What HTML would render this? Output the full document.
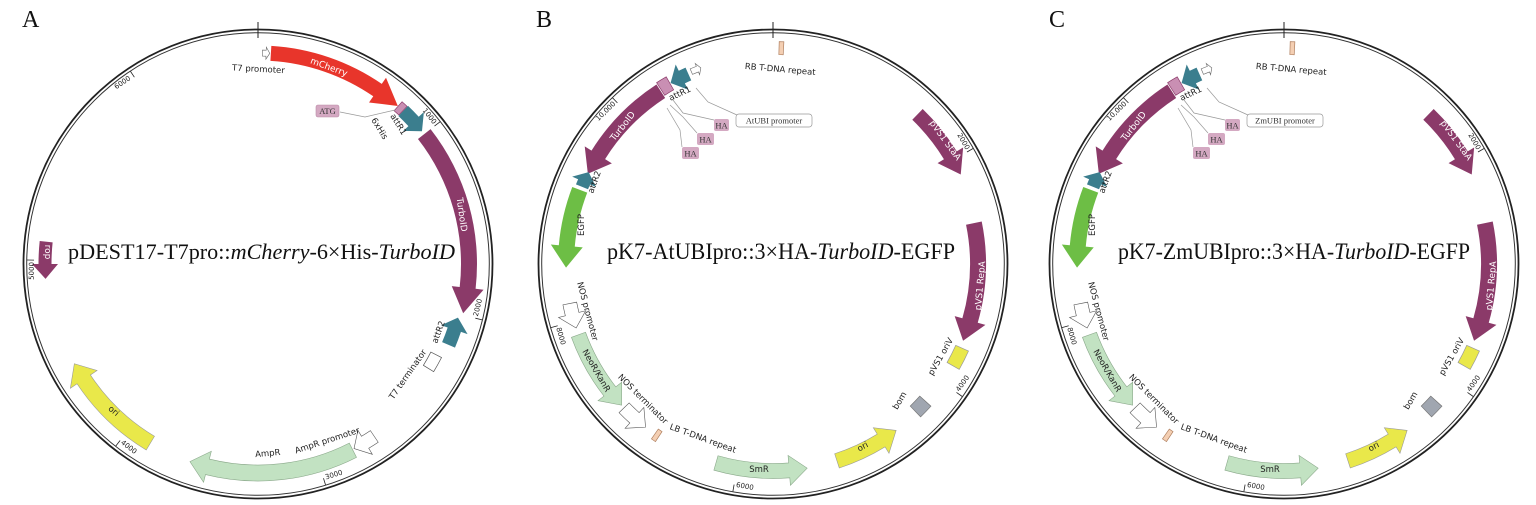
<!DOCTYPE html>
<html><head><meta charset="utf-8"><style>
html,body{margin:0;padding:0;background:#fff;width:1536px;height:505px;overflow:hidden}
svg{display:block}
.s{font-family:"DejaVu Sans","Liberation Sans",sans-serif;font-size:8.5px;fill:#222}
.w{font-family:"DejaVu Sans","Liberation Sans",sans-serif;font-size:9px;fill:#fff}
.k{font-family:"DejaVu Sans","Liberation Sans",sans-serif;font-size:7px;fill:#222}
.t{font-family:"Liberation Serif",serif;font-size:22px;fill:#111}
.L{font-family:"Liberation Serif",serif;font-size:24px;fill:#111}
.b{font-family:"Liberation Serif",serif;font-size:8.5px;fill:#333}
</style></head><body>
<svg id="svg" width="1536" height="505" viewBox="0 0 1536 505" xmlns="http://www.w3.org/2000/svg">
<text class="L" x="22" y="27">A</text>
<text class="L" x="536" y="27">B</text>
<text class="L" x="1049" y="27">C</text>

<g id="gA" transform="translate(258,264)"></g>
<g id="gB" transform="translate(773,264)"></g>
<g id="gC" transform="translate(1284,264)"></g>

<!-- Panel A text -->
<text class="t" x="68" y="259" textLength="387" lengthAdjust="spacingAndGlyphs">pDEST17-T7pro::<tspan font-style="italic">mCherry</tspan>-6×His-<tspan font-style="italic">TurboID</tspan></text>
<text class="s" x="232" y="72" transform="rotate(3 262 70)">T7 promoter</text>
<text class="w" x="329" y="70" text-anchor="middle" transform="rotate(20 329 67)">mCherry</text>
<rect x="316" y="105" width="23" height="12" rx="2" fill="#d4a9c2" stroke="#b98aa6" stroke-width="0.6"/>
<text class="b" x="327.5" y="114" text-anchor="middle">ATG</text>
<polyline points="340,112 365,117 395,110" fill="none" stroke="#999" stroke-width="0.7"/>
<text class="s" x="371" y="120" transform="rotate(58 371 120)">6xHis</text>
<text class="s" x="390" y="116" transform="rotate(58 390 116)">attR1</text>
<text class="w" x="459" y="215" text-anchor="middle" transform="rotate(82 459 215)">TurboID</text>
<text class="s" x="441" y="333" text-anchor="middle" transform="rotate(-70 441 333)">attR2</text>
<text class="s" x="410" y="376" text-anchor="middle" transform="rotate(-55 410 376)">T7 terminator</text>
<text class="s" x="268" y="456" text-anchor="middle" transform="rotate(-5 268 456)">AmpR</text>
<text class="s" x="328" y="443" text-anchor="middle" transform="rotate(-18 328 443)">AmpR promoter</text>
<text class="s" x="112" y="413" text-anchor="middle" transform="rotate(40 112 413)">ori</text>
<text class="w" x="45" y="252" text-anchor="middle" transform="rotate(90 45 252)">rop</text>

<!-- Panel B text -->
<g id="tB">
<text class="t" x="607" y="259" textLength="348" lengthAdjust="spacingAndGlyphs" style="font-size:23px">pK7-AtUBIpro::3×HA-<tspan font-style="italic">TurboID</tspan>-EGFP</text>
<text class="s" x="780" y="72" text-anchor="middle" transform="rotate(5 780 72)">RB T-DNA repeat</text>
<text class="s" x="681" y="96" text-anchor="middle" transform="rotate(-25 681 96)">attR1</text>
<polyline points="696,88 708,102 737,115" fill="none" stroke="#999" stroke-width="0.7"/>
<polyline points="673,100 683,113 714,120" fill="none" stroke="#999" stroke-width="0.7"/>
<polyline points="670,105 683,117 697,133" fill="none" stroke="#999" stroke-width="0.7"/>
<polyline points="667,108 680,130 682,147" fill="none" stroke="#999" stroke-width="0.7"/>
<rect x="736" y="114" width="76" height="13" rx="3" fill="#fff" stroke="#999" stroke-width="0.7"/>
<text class="b" x="774" y="123.5" text-anchor="middle">AtUBI promoter</text>
<rect x="714" y="119" width="15" height="12" rx="2" fill="#d4a9c2"/><text class="b" x="721.5" y="128.5" text-anchor="middle">HA</text>
<rect x="697" y="133" width="17" height="12" rx="2" fill="#d4a9c2"/><text class="b" x="705.5" y="142.5" text-anchor="middle">HA</text>
<rect x="682" y="147" width="17" height="12" rx="2" fill="#d4a9c2"/><text class="b" x="690.5" y="156.5" text-anchor="middle">HA</text>
<text class="w" x="625" y="128" text-anchor="middle" transform="rotate(-52 625 128)">TurboID</text>
<text class="s" x="597" y="183" text-anchor="middle" transform="rotate(-70 597 183)">attR2</text>
<text class="s" x="584" y="225" text-anchor="middle" transform="rotate(-90 584 225)">EGFP</text>
<text class="s" x="585" y="312" text-anchor="middle" transform="rotate(75 585 312)">NOS promoter</text>
<text class="k" x="594" y="372" text-anchor="middle" transform="rotate(60 594 372)" style="font-size:8.5px">NeoR/KanR</text>
<text class="s" x="641" y="401" text-anchor="middle" transform="rotate(45 641 401)">NOS terminator</text>
<text class="s" x="702" y="441" text-anchor="middle" transform="rotate(20 702 441)">LB T-DNA repeat</text>
<text class="k" x="759" y="472" text-anchor="middle" style="font-size:8.5px">SmR</text>
<text class="k" x="864" y="449" text-anchor="middle" transform="rotate(-28 864 449)" style="font-size:8.5px">ori</text>
<text class="s" x="902" y="402" text-anchor="middle" transform="rotate(-60 902 402)">bom</text>
<text class="s" x="943" y="358" text-anchor="middle" transform="rotate(-60 943 358)">pVS1 oriV</text>
<text class="w" x="983" y="286" text-anchor="middle" transform="rotate(-85 983 286)">pVS1 RepA</text>
<text class="w" x="943" y="142" text-anchor="middle" transform="rotate(54 943 142)">pVS1 StaA</text>
</g>

<!-- Panel C text -->
<g transform="translate(511,0)">
<text class="t" x="607" y="259" textLength="352" lengthAdjust="spacingAndGlyphs" style="font-size:23px">pK7-ZmUBIpro::3×HA-<tspan font-style="italic">TurboID</tspan>-EGFP</text>
<text class="s" x="780" y="72" text-anchor="middle" transform="rotate(5 780 72)">RB T-DNA repeat</text>
<text class="s" x="681" y="96" text-anchor="middle" transform="rotate(-25 681 96)">attR1</text>
<polyline points="696,88 708,102 737,115" fill="none" stroke="#999" stroke-width="0.7"/>
<polyline points="673,100 683,113 714,120" fill="none" stroke="#999" stroke-width="0.7"/>
<polyline points="670,105 683,117 697,133" fill="none" stroke="#999" stroke-width="0.7"/>
<polyline points="667,108 680,130 682,147" fill="none" stroke="#999" stroke-width="0.7"/>
<rect x="736" y="114" width="76" height="13" rx="3" fill="#fff" stroke="#999" stroke-width="0.7"/>
<text class="b" x="774" y="123.5" text-anchor="middle">ZmUBI promoter</text>
<rect x="714" y="119" width="15" height="12" rx="2" fill="#d4a9c2"/><text class="b" x="721.5" y="128.5" text-anchor="middle">HA</text>
<rect x="697" y="133" width="17" height="12" rx="2" fill="#d4a9c2"/><text class="b" x="705.5" y="142.5" text-anchor="middle">HA</text>
<rect x="682" y="147" width="17" height="12" rx="2" fill="#d4a9c2"/><text class="b" x="690.5" y="156.5" text-anchor="middle">HA</text>
<text class="w" x="625" y="128" text-anchor="middle" transform="rotate(-52 625 128)">TurboID</text>
<text class="s" x="597" y="183" text-anchor="middle" transform="rotate(-70 597 183)">attR2</text>
<text class="s" x="584" y="225" text-anchor="middle" transform="rotate(-90 584 225)">EGFP</text>
<text class="s" x="585" y="312" text-anchor="middle" transform="rotate(75 585 312)">NOS promoter</text>
<text class="k" x="594" y="372" text-anchor="middle" transform="rotate(60 594 372)" style="font-size:8.5px">NeoR/KanR</text>
<text class="s" x="641" y="401" text-anchor="middle" transform="rotate(45 641 401)">NOS terminator</text>
<text class="s" x="702" y="441" text-anchor="middle" transform="rotate(20 702 441)">LB T-DNA repeat</text>
<text class="k" x="759" y="472" text-anchor="middle" style="font-size:8.5px">SmR</text>
<text class="k" x="864" y="449" text-anchor="middle" transform="rotate(-28 864 449)" style="font-size:8.5px">ori</text>
<text class="s" x="902" y="402" text-anchor="middle" transform="rotate(-60 902 402)">bom</text>
<text class="s" x="943" y="358" text-anchor="middle" transform="rotate(-60 943 358)">pVS1 oriV</text>
<text class="w" x="983" y="286" text-anchor="middle" transform="rotate(-85 983 286)">pVS1 RepA</text>
<text class="w" x="943" y="142" text-anchor="middle" transform="rotate(54 943 142)">pVS1 StaA</text>
</g>

<!-- tick labels -->
<g transform="translate(258,264)">
<text class="k" transform="rotate(52) translate(0,-224)" text-anchor="end" x="-2">1000</text>
<text class="k" transform="rotate(-76) translate(0,226) " text-anchor="start" x="2">2000</text>
<text class="k" transform="rotate(-17) translate(0,226)" text-anchor="start" x="2">3000</text>
<text class="k" transform="rotate(38) translate(0,226)" text-anchor="start" x="2">4000</text>
<text class="k" transform="rotate(271) translate(0,-224)" text-anchor="end" x="-2">5000</text>
<text class="k" transform="rotate(326) translate(0,-224)" text-anchor="end" x="-2">6000</text>
</g>
<g transform="translate(773,264)">
<text class="k" transform="rotate(316) translate(0,-224)" text-anchor="end" x="-2">10,000</text>
<text class="k" transform="rotate(60) translate(0,-224)" text-anchor="end" x="-2">2000</text>
<text class="k" transform="rotate(-55) translate(0,226)" text-anchor="start" x="2">4000</text>
<text class="k" transform="rotate(10) translate(0,226)" text-anchor="start" x="2">6000</text>
<text class="k" transform="rotate(74) translate(0,226)" text-anchor="start" x="2">8000</text>
</g>
<g transform="translate(1284,264)">
<text class="k" transform="rotate(316) translate(0,-224)" text-anchor="end" x="-2">10,000</text>
<text class="k" transform="rotate(60) translate(0,-224)" text-anchor="end" x="-2">2000</text>
<text class="k" transform="rotate(-55) translate(0,226)" text-anchor="start" x="2">4000</text>
<text class="k" transform="rotate(10) translate(0,226)" text-anchor="start" x="2">6000</text>
<text class="k" transform="rotate(74) translate(0,226)" text-anchor="start" x="2">8000</text>
</g>
</svg>
<script>
var NS="http://www.w3.org/2000/svg";
function P(r,a){a=a*Math.PI/180;return (r*Math.sin(a)).toFixed(2)+","+(-r*Math.cos(a)).toFixed(2);}
function add(g,tag,at){var e=document.createElementNS(NS,tag);for(var k in at)e.setAttribute(k,at[k]);g.appendChild(e);return e;}
function arrow(g,r,a1,a2,w,fill,stroke,hd){
 var dir=a2>a1?1:-1;hd=hd||Math.min(6,Math.abs(a2-a1)*0.5);var b=a2-dir*hd;
 var ro=r+w/2,ri=r-w/2,sw=dir>0?1:0,lg=Math.abs(b-a1)>180?1:0,e=w*0.5;
 var d="M"+P(ro,a1)+" A"+ro+","+ro+" 0 "+lg+" "+sw+" "+P(ro,b)+" L"+P(ro+e,b)+" L"+P(r,a2)+" L"+P(ri-e,b)+" L"+P(ri,b)+" A"+ri+","+ri+" 0 "+lg+" "+(1-sw)+" "+P(ri,a1)+" Z";
 add(g,"path",{d:d,fill:fill,stroke:stroke||"none","stroke-width":0.6});
}
function box(g,r,a1,a2,w,fill,stroke){
 var ro=r+w/2,ri=r-w/2;
 var d="M"+P(ro,a1)+" A"+ro+","+ro+" 0 0 1 "+P(ro,a2)+" L"+P(ri,a2)+" A"+ri+","+ri+" 0 0 0 "+P(ri,a1)+" Z";
 add(g,"path",{d:d,fill:fill,stroke:stroke||"none","stroke-width":0.7});
}
function ring(g,ticks){
 add(g,"circle",{cx:0,cy:0,r:234.5,fill:"none",stroke:"#222","stroke-width":1.8});
 add(g,"circle",{cx:0,cy:0,r:231.3,fill:"none",stroke:"#333","stroke-width":1});
 add(g,"line",{x1:0,y1:-242,x2:0,y2:-226,stroke:"#222","stroke-width":1});
 ticks.forEach(function(a){var p1=P(231,a).split(","),p2=P(224,a).split(",");add(g,"line",{x1:p1[0],y1:p1[1],x2:p2[0],y2:p2[1],stroke:"#222","stroke-width":0.8});});
}
var PU="#8b3a69",TE="#3b7e8e",LG="#c2e2c2",YE="#e9e84a",PE="#f4cfb3";
var A=document.getElementById("gA");
ring(A,[52,104,163,218,271,326.5]);
arrow(A,211,1.2,3.2,6,"#fff","#666",1);
arrow(A,211,3.5,41.5,15,"#e8352b","none",7);
box(A,211,41.6,43.4,12,"#c98fb3","#8b3a69");
arrow(A,211,43.5,51,14,TE,"none",3.5);
arrow(A,211,52,103.5,16,PU,"none",7);
arrow(A,207,113,105,14,TE,"none",3.5);
box(A,200,117,121.5,12,"#fff","#555");
arrow(A,208,146,152.5,14,"#fff","#555",3.5);
arrow(A,209,153,199,16,LG,"#8aa88a",5);
arrow(A,209,211,241.5,16,YE,"#999",5);
arrow(A,213,276,266,13,PU,"none",4);
function panelB(G){
 ring(G,[60,125,190,254,316]);
 box(G,216,1.6,2.8,13,PE,"#b08060");
 arrow(G,209,337,339.8,6,"#fff","#666",1);
 arrow(G,208,336,330.5,14,TE,"none",3.5);
 box(G,208,327.3,330.3,15,"#c98fb3","#8b3a69");
 arrow(G,206,327,296,16,PU,"none",6);
 arrow(G,206,292,296.5,13,TE,"none",3);
 arrow(G,207,291,269,16,"#6dbe45","none",6);
 arrow(G,207,259,252,14,"#fff","#555",4);
 arrow(G,207,250,227,15,LG,"#8aa88a",5);
 arrow(G,207,226,218,14,"#fff","#555",4);
 box(G,207,213.5,214.8,12,PE,"#b08060");
 arrow(G,207,196,170.5,15,LG,"#8aa88a",5);
 arrow(G,207,162,143.5,15,YE,"#999",5);
 box(G,205,132,136,15,"#a0a6b0","#777");
 box(G,207,114,119.5,14,YE,"#999");
 arrow(G,205,78.5,112,16,PU,"none",6);
 arrow(G,208,44,64.5,15,PU,"none",6);
}
panelB(document.getElementById("gB"));
panelB(document.getElementById("gC"));
</script>
</body></html>
